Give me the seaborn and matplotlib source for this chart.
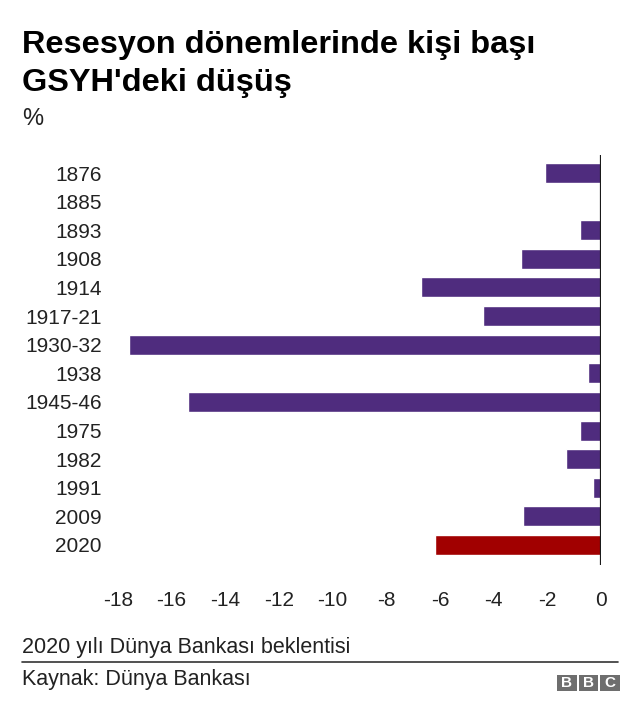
import matplotlib
matplotlib.use("Agg")
import matplotlib.pyplot as plt
import seaborn as sns
import pandas as pd
from matplotlib.patches import Rectangle
from matplotlib.lines import Line2D

categories = ["1876", "1885", "1893", "1908", "1914", "1917-21", "1930-32",
              "1938", "1945-46", "1975", "1982", "1991", "2009", "2020"]
values = [-2.1, 0.0, -0.8, -3.0, -6.7, -4.4, -17.6,
          -0.5, -15.4, -0.8, -1.3, -0.3, -2.9, -6.2]
xticks = [-18, -16, -14, -12, -10, -8, -6, -4, -2, 0]

title_lines = ["Resesyon dönemlerinde kişi başı", "GSYH'deki düşüş"]
subtitle = "%"
note = "2020 yılı Dünya Bankası beklentisi"
source = "Kaynak: Dünya Bankası"

purple = "#4f2c7e"
red = "#a10000"

sns.set_theme(style="white")
plt.rcParams["font.family"] = ["Liberation Sans", "DejaVu Sans"]

df = pd.DataFrame({"period": categories, "value": values})
palette = {c: (red if c == "2020" else purple) for c in categories}

W, H = 640, 721
fig = plt.figure(figsize=(W / 100, H / 100), dpi=100)
ax = fig.add_axes([104.6 / W, 1 - 565 / H, (601 - 104.6) / W, (565 - 155) / H])

sns.barplot(data=df, y="period", x="value", hue="period", palette=palette,
            order=categories, hue_order=categories, orient="h", legend=False,
            width=0.7, saturation=1, ax=ax)

ax.set_xlim(-18.5, 0)
ax.set_ylim(13.7, -0.63)
ax.axvline(0, color="#1a1a1a", lw=1.6)
ax.set_xticks(xticks)
ax.set_xticklabels([str(t) for t in xticks])
ax.set_xlabel("")
ax.set_ylabel("")
for s in ax.spines.values():
    s.set_visible(False)
ax.tick_params(axis="x", length=0, pad=19, labelsize=15, labelcolor="#222222")
ax.tick_params(axis="y", length=0, pad=2, labelsize=15, labelcolor="#222222")
ax.grid(False)

fig.text(22 / W, 1 - 53 / H, title_lines[0], fontsize=23.4, fontweight="bold",
         va="baseline", ha="left", color="#000000")
fig.text(22 / W, 1 - 91 / H, title_lines[1], fontsize=23.4, fontweight="bold",
         va="baseline", ha="left", color="#000000")
fig.text(22 / W, 1 - 125 / H, subtitle, fontsize=17, va="baseline", ha="left",
         color="#222222")
fig.text(22 / W, 1 - 653 / H, note, fontsize=15.5, va="baseline", ha="left",
         color="#222222")
fig.add_artist(Line2D([22 / W, 618 / W], [1 - 662 / H, 1 - 662 / H],
                      color="#333333", lw=1.2, transform=fig.transFigure))
fig.text(22 / W, 1 - 685 / H, source, fontsize=15.5, va="baseline", ha="left",
         color="#222222")

# BBC logo
bx0 = 557
for i, letter in enumerate("BBC"):
    x = bx0 + i * 21.5
    fig.add_artist(Rectangle((x / W, 1 - 691 / H), 19.5 / W, 16 / H,
                             transform=fig.transFigure, color="#6e6e6e", lw=0))
    fig.text((x + 9.75) / W, 1 - 683 / H, letter, fontsize=11, fontweight="bold",
             color="white", ha="center", va="center")

fig.savefig("out.png", dpi=100)
